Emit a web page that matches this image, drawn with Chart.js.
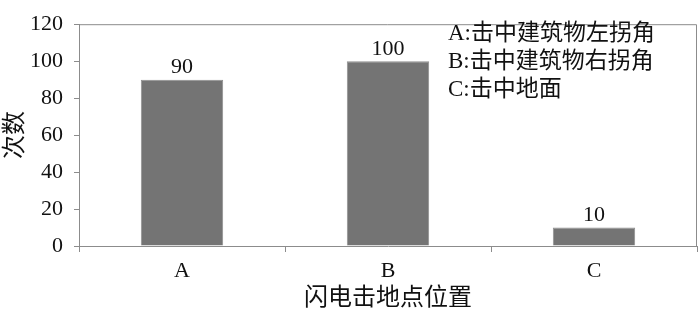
<!DOCTYPE html>
<html>
<head>
<meta charset="utf-8">
<script src="https://cdn.jsdelivr.net/npm/chart.js@4"></script>
<style>
  html, body { margin: 0; padding: 0; background: #fff; }
  #wrap { width: 700px; height: 317px; }
</style>
</head>
<body>
<div id="wrap"><canvas id="chart" width="700" height="317"></canvas></div>
<script>
const categories = ["A", "B", "C"];
const counts = [90, 100, 10];
const legendLines = ["A:击中建筑物左拐角", "B:击中建筑物右拐角", "C:击中地面"];
const xTitle = "闪电击地点位置";
const yTitle = "次数";

const FONT = "'Liberation Serif', 'Noto Sans CJK SC', serif";
const AXIS = "#8c8c8c";

// frame round the plot, value labels and the note box
const extras = {
  id: "extras",
  afterDatasetsDraw(chart) {
    const { ctx, chartArea: a } = chart;
    ctx.save();
    ctx.strokeStyle = AXIS;
    ctx.lineWidth = 1;
    ctx.beginPath();
    ctx.moveTo(a.left, a.top + 0.5);
    ctx.lineTo(a.right - 0.5, a.top + 0.5);
    ctx.lineTo(a.right - 0.5, a.bottom);
    ctx.stroke();

    ctx.fillStyle = "#111";
    ctx.font = "22px " + FONT;
    ctx.textAlign = "center";
    ctx.textBaseline = "bottom";
    chart.getDatasetMeta(0).data.forEach((bar, i) => {
      ctx.fillText(String(counts[i]), bar.x, bar.y - 1);
    });

    ctx.font = "23px " + FONT;
    ctx.textAlign = "left";
    ctx.textBaseline = "middle";
    legendLines.forEach((t, i) => {
      ctx.fillText(t, 448, 34 + i * 28);
    });
    ctx.restore();
  }
};

new Chart(document.getElementById("chart").getContext("2d"), {
  type: "bar",
  data: {
    labels: categories,
    datasets: [
      {
        label: yTitle,
        data: counts,
        backgroundColor: "#747474",
        borderColor: "#8e8e8e",
        borderWidth: 1,
        barPercentage: 0.4,
        categoryPercentage: 1,
      },
    ],
  },
  options: {
    responsive: false,
    animation: false,
    layout: { padding: { top: 7, right: 3, left: 0, bottom: 0 } },
    plugins: { legend: { display: false }, tooltip: { enabled: false } },
    scales: {
      x: {
        afterFit: (s) => { s.height = 71; },
        border: { color: AXIS },
        grid: { offset: true, drawOnChartArea: false, tickLength: 6, color: AXIS },
        ticks: { color: "#111", padding: 6, font: { size: 22, family: FONT } },
        title: {
          display: true,
          text: xTitle,
          color: "#111",
          padding: { top: 0, bottom: 4 },
          font: { size: 24, family: FONT },
        },
      },
      y: {
        min: 0,
        max: 120,
        afterFit: (s) => { s.width = 79; },
        border: { color: AXIS },
        grid: { drawOnChartArea: false, tickLength: 5, color: AXIS },
        ticks: { stepSize: 20, color: "#111", padding: 11, font: { size: 22, family: FONT } },
        title: {
          display: true,
          text: yTitle,
          color: "#111",
          padding: { top: 1, bottom: 0 },
          font: { size: 24, family: FONT },
        },
      },
    },
  },
  plugins: [extras],
});
</script>
</body>
</html>
